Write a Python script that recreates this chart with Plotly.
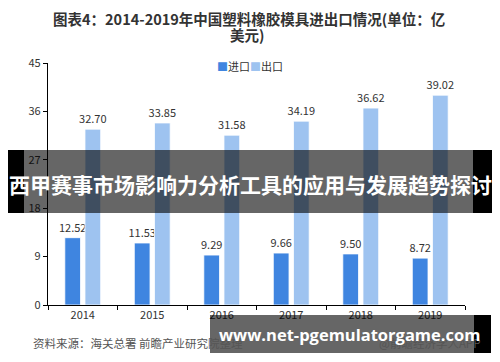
import plotly.graph_objects as go

years = ["2014", "2015", "2016", "2017", "2018", "2019"]
imports = [12.52, 11.53, 9.29, 9.66, 9.50, 8.72]
exports = [32.70, 33.85, 31.58, 34.19, 36.62, 39.02]
y_ticks = [0, 9, 18, 27, 36, 45]

IMP_COLOR = "#3f85e0"
EXP_COLOR = "#9ec3f0"
CJK = "Noto Sans CJK SC"

# page offset (browser default body margin)
OFF = 8
W, H = 500, 362
# plot area in reference pixels
RL, RR, RT, RB = 48, 465, 63, 305
L, R, T, B = RL - OFF, RR - OFF, RT - OFF, RB - OFF


def px(x):
    return (x - RL) / (RR - RL)


def py(y):
    return (RB - y) / (RB - RT)


fig = go.Figure()
fig.add_trace(go.Bar(
    x=years, y=imports, name="进口", marker=dict(color=IMP_COLOR, line=dict(color="white", width=0.8)),
    text=[f"{v:.2f}" for v in imports], textposition="outside", constraintext="none",
    textfont=dict(size=11, color="#333", family=CJK), cliponaxis=False, showlegend=False,
))
fig.add_trace(go.Bar(
    x=years, y=exports, name="出口", marker=dict(color=EXP_COLOR, line=dict(color="white", width=0.8)),
    text=[f"{v:.2f}" for v in exports], textposition="outside", constraintext="none",
    textfont=dict(size=11, color="#333", family=CJK), cliponaxis=False, showlegend=False,
))

fig.update_layout(
    width=W, height=H,
    margin=dict(l=L, r=W - R, t=T, b=H - B, autoexpand=False),
    paper_bgcolor="white", plot_bgcolor="white",
    barmode="group", bargap=0.42, bargroupgap=0.22,
    font=dict(family=CJK, size=11, color="#333"),
    showlegend=False,
    xaxis=dict(
        type="category", showline=True, linecolor="black", linewidth=1.2, automargin=False,
        ticks="outside", ticklen=4, tickcolor="black", tickson="boundaries",
        showgrid=False, tickfont=dict(size=11, color="#333"),
    ),
    yaxis=dict(
        range=[0, 45], tickvals=y_ticks, showline=True, linecolor="black", linewidth=1.2,
        automargin=False,
        ticks="outside", ticklen=4, tickcolor="black", showgrid=False, zeroline=False,
        tickfont=dict(size=11, color="#333"),
    ),
)

annotations = [
    dict(text="<b>图表4：2014-2019年中国塑料橡胶模具进出口情况(单位：亿</b>",
         x=px(249), y=py(19), xref="paper", yref="paper", showarrow=False, borderpad=0,
         font=dict(size=14.5, color="#333", family=CJK), align="center", xanchor="center", yanchor="middle"),
    dict(text="<b>美元)</b>",
         x=px(247), y=py(35), xref="paper", yref="paper", showarrow=False, borderpad=0,
         font=dict(size=14.5, color="#333", family=CJK), align="center", xanchor="center", yanchor="middle"),
    dict(text=f"<span style='color:{IMP_COLOR}'>■</span>进口",
         x=px(215), y=py(66), xref="paper", yref="paper", showarrow=False,
         font=dict(size=11, color="#333", family=CJK), xanchor="left", yanchor="middle"),
    dict(text=f"<span style='color:{EXP_COLOR}'>■</span>出口",
         x=px(248), y=py(66), xref="paper", yref="paper", showarrow=False,
         font=dict(size=11, color="#333", family=CJK), xanchor="left", yanchor="middle"),
    dict(text="资料来源：海关总署 前瞻产业研究院整理",
         x=px(31), y=py(343), xref="paper", yref="paper", showarrow=False,
         font=dict(size=11.5, color="#555", family=CJK), xanchor="left", yanchor="middle"),
    dict(text="@前瞻经济学人APP",
         x=px(482), y=py(343), xref="paper", yref="paper", showarrow=False,
         font=dict(size=11.5, color="#555", family=CJK), xanchor="right", yanchor="middle"),
]

shapes = [
    # central banner
    dict(type="rect", xref="paper", yref="paper", x0=px(8), x1=px(24), y0=py(213), y1=py(150),
         fillcolor="black", line=dict(width=0), layer="above"),
    dict(type="rect", xref="paper", yref="paper", x0=px(24), x1=px(473), y0=py(213), y1=py(150),
         fillcolor="rgba(0,0,0,0.6)", line=dict(width=0), layer="above"),
    dict(type="rect", xref="paper", yref="paper", x0=px(473), x1=px(492), y0=py(213), y1=py(150),
         fillcolor="black", line=dict(width=0), layer="above"),
    # bottom banner
    dict(type="rect", xref="paper", yref="paper", x0=px(210), x1=px(474), y0=py(353), y1=py(315),
         fillcolor="rgba(0,0,0,0.6)", line=dict(width=0), layer="above"),
    dict(type="rect", xref="paper", yref="paper", x0=px(474), x1=px(491), y0=py(353), y1=py(315),
         fillcolor="black", line=dict(width=0), layer="above"),
]

annotations += [
    dict(text="<b>西甲赛事市场影响力分析工具的应用与发展趋势探讨</b>",
         x=px(250), y=py(184), xref="paper", yref="paper", showarrow=False,
         font=dict(size=21, color="white", family=CJK), xanchor="center", yanchor="middle"),
    dict(text="<b>www.net-pgemulatorgame.com</b>",
         x=px(349), y=py(334), xref="paper", yref="paper", showarrow=False,
         font=dict(size=16.5, color="white", family="Open Sans"), xanchor="center", yanchor="middle"),
]

fig.update_layout(annotations=annotations, shapes=shapes)
fig.write_html("out.html")
